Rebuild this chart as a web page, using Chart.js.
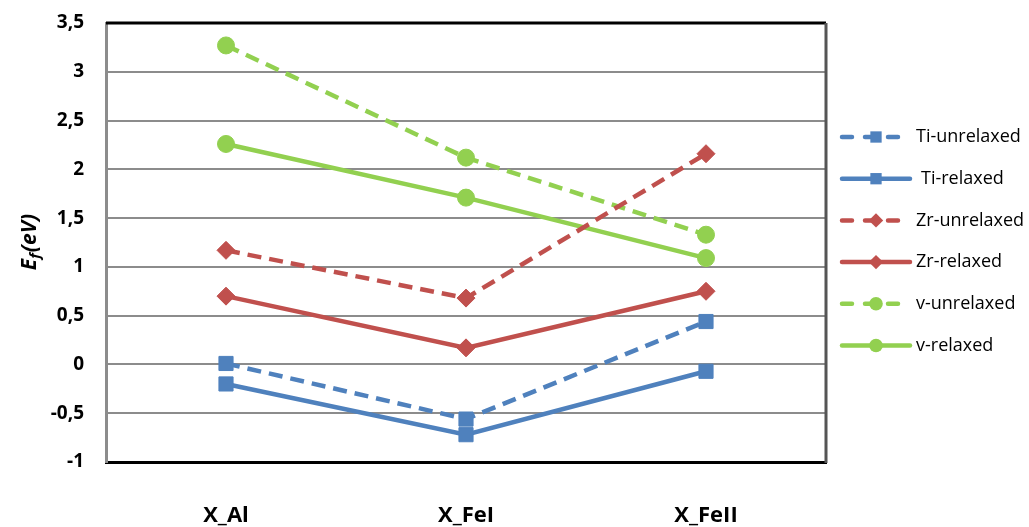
<!DOCTYPE html>
<html>
<head>
<meta charset="utf-8">
<script src="https://cdn.jsdelivr.net/npm/chart.js@4/dist/chart.umd.min.js"></script>
<style>
  html, body { margin: 0; padding: 0; background: #fff; }
  #wrap { width: 1029px; height: 527px; }
</style>
</head>
<body>
<div id="wrap"><canvas id="chart" width="1029" height="527"></canvas></div>
<script>
const labels = ["X_Al", "X_FeI", "X_FeII"];
const tiUnrelaxed = [0.01, -0.56, 0.44];
const tiRelaxed = [-0.2, -0.72, -0.07];
const zrUnrelaxed = [1.17, 0.68, 2.16];
const zrRelaxed = [0.7, 0.17, 0.75];
const vUnrelaxed = [3.27, 2.12, 1.33];
const vRelaxed = [2.26, 1.71, 1.09];

const blue = "#4F81BD";
const red = "#C0504D";
const green = "#92D050";
const dash = [14, 8];

function series(label, data, color, style, radius, dashed) {
    return {
        label: label,
        data: data,
        borderColor: color,
        backgroundColor: color,
        borderWidth: 4.5,
        borderDash: dashed ? dash : [],
        pointStyle: style,
        pointRadius: radius,
        pointHoverRadius: radius,
        pointBorderWidth: 1,
        tension: 0,
    };
}

const data = {
    labels: labels,
    datasets: [
        series("Ti-unrelaxed", tiUnrelaxed, blue, "rect", 10, true),
        series("Ti-relaxed", tiRelaxed, blue, "rect", 10, false),
        series("Zr-unrelaxed", zrUnrelaxed, red, "rectRot", 9, true),
        series("Zr-relaxed", zrRelaxed, red, "rectRot", 9, false),
        series("v-unrelaxed", vUnrelaxed, green, "circle", 8.5, true),
        series("v-relaxed", vRelaxed, green, "circle", 8.5, false),
    ],
};

// frame, y title and legend drawn by hand
const extras = {
    id: "extras",
    afterDraw(c) {
        const ctx = c.ctx;
        const a = c.chartArea;
        ctx.save();
        // top and right frame
        ctx.lineWidth = 3;
        ctx.strokeStyle = "#000";
        ctx.beginPath();
        ctx.moveTo(a.left, a.top);
        ctx.lineTo(a.right, a.top);
        ctx.stroke();
        ctx.strokeStyle = "#555";
        ctx.beginPath();
        ctx.moveTo(a.right, a.top);
        ctx.lineTo(a.right, a.bottom + 1);
        ctx.stroke();

        // y title E_f(eV)
        ctx.translate(30, (a.top + a.bottom) / 2);
        ctx.rotate(-Math.PI / 2);
        ctx.fillStyle = "#000";
        ctx.textBaseline = "middle";
        ctx.font = "italic bold 21px 'Open Sans'";
        const w1 = ctx.measureText("E").width;
        ctx.font = "italic bold 15px 'Open Sans'";
        const w2 = ctx.measureText("f").width;
        ctx.font = "italic bold 21px 'Open Sans'";
        const w3 = ctx.measureText("(eV)").width;
        let x = -(w1 + w2 + w3) / 2;
        ctx.fillText("E", x, 0);
        x += w1;
        ctx.font = "italic bold 15px 'Open Sans'";
        ctx.fillText("f", x, 6);
        x += w2 + 1;
        ctx.font = "italic bold 21px 'Open Sans'";
        ctx.fillText("(eV)", x, 0);
        ctx.restore();

        // legend
        ctx.save();
        c.data.datasets.forEach((ds, i) => {
            const y = 137 + i * 41.7;
            ctx.strokeStyle = ds.borderColor;
            ctx.lineWidth = 4.5;
            ctx.lineCap = "round";
            ctx.setLineDash(ds.borderDash.length ? [10, 13] : []);
            ctx.beginPath();
            ctx.moveTo(842, y);
            ctx.lineTo(910, y);
            ctx.stroke();
            ctx.setLineDash([]);
            ctx.fillStyle = ds.backgroundColor;
            Chart.helpers.drawPoint(ctx, {
                pointStyle: ds.pointStyle,
                radius: ds.pointRadius * 0.8,
                borderWidth: 0,
                rotation: 0,
            }, 876, y);
            ctx.fillStyle = "#000";
            ctx.font = "18px 'Open Sans'";
            ctx.textBaseline = "middle";
            ctx.fillText(ds.label, i === 1 ? 921 : 916, y);
        });
        ctx.restore();
    },
};

const options = {
    responsive: false,
    animation: false,
    layout: {
        padding: { left: 40, right: 203, top: 23, bottom: 0 },
    },
    scales: {
        x: {
            offset: true,
            grid: { display: false, drawTicks: false },
            border: { color: "#000", width: 3 },
            ticks: {
                padding: 41,
                color: "#000",
                font: { family: "'Open Sans'", size: 22, weight: "bold" },
            },
            afterFit(s) { s.height = 65; s.paddingLeft = 0; s.paddingRight = 0; },
        },
        y: {
            min: -1,
            max: 3.5,
            grid: { color: "#8c8c8c", lineWidth: 2, drawTicks: false },
            border: { color: "#8c8c8c", width: 3 },
            ticks: {
                stepSize: 0.5,
                padding: 22,
                color: "#000",
                font: { family: "'Open Sans'", size: 19, weight: "bold" },
                callback: (v) => String(v).replace(".", ","),
            },
            afterFit(s) { s.width = 66; s.paddingTop = 0; s.paddingBottom = 0; },
        },
    },
    plugins: {
        legend: { display: false },
        tooltip: { enabled: false },
    },
};

new Chart(document.querySelector("#chart").getContext("2d"), {
    type: "line",
    data: data,
    options: options,
    plugins: [extras],
});
</script>
</body>
</html>
